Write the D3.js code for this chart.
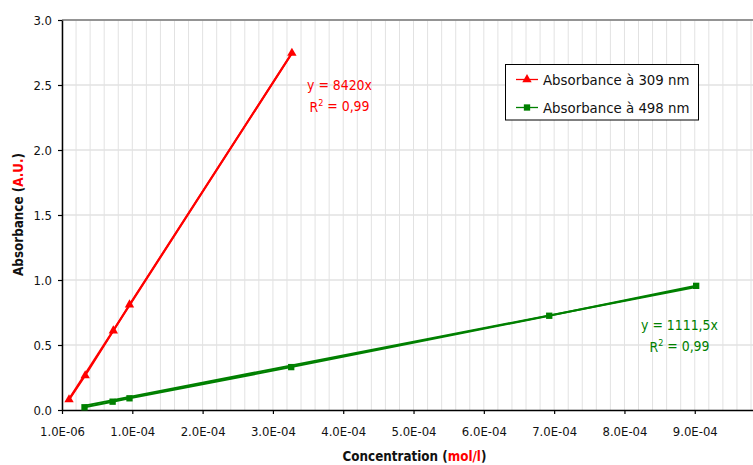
<!DOCTYPE html>
<html>
<head>
<meta charset="utf-8">
<script src="https://cdn.jsdelivr.net/npm/d3@7"></script>
<style>
  html, body { margin: 0; padding: 0; background: #fff; }
  svg { display: block; font-family: "DejaVu Sans Condensed", "DejaVu Sans", sans-serif; font-stretch: condensed; }
</style>
</head>
<body>
<svg id="chart" width="753" height="465"></svg>
<script>
// ---- data ----
const seriesNames = ["Absorbance à 309 nm", "Absorbance à 498 nm"];
const conc309 = [1.0e-5, 3.3e-5, 7.3e-5, 9.6e-5, 3.27e-4];
const abs309  = [0.08, 0.265, 0.61, 0.81, 2.745];
const conc498 = [3.2e-5, 7.2e-5, 9.6e-5, 3.26e-4, 6.93e-4, 9.02e-4];
const abs498  = [0.021, 0.064, 0.09, 0.33, 0.725, 0.955];
const xTickValues = [0, 1e-4, 2e-4, 3e-4, 4e-4, 5e-4, 6e-4, 7e-4, 8e-4, 9e-4];
const xTickLabels = ["1.0E-06", "1.0E-04", "2.0E-04", "3.0E-04", "4.0E-04", "5.0E-04", "6.0E-04", "7.0E-04", "8.0E-04", "9.0E-04"];
const yTickValues = [0, 0.5, 1.0, 1.5, 2.0, 2.5, 3.0];
const eq309 = ["y = 8420x", "0,99"];
const eq498 = ["y = 1111,5x", "0,99"];

// ---- layout ----
const svg = d3.select("#chart");
const pL = 62, pT = 20, pB = 410, pR = 751;
const xMax = 9.8e-4;
const x = d3.scaleLinear().domain([0, xMax]).range([pL, pR]);
const y = d3.scaleLinear().domain([0, 3]).range([pB, pT]);

const red = "#ff0000", green = "#008000";
const FONT = "DejaVu Sans Condensed, DejaVu Sans, sans-serif";

// fit a font size so the text node has a target width
function fitSize(node, target) {
  const fs = parseFloat(node.getAttribute("font-size") || 13);
  const w = node.getComputedTextLength();
  return w > 0 ? fs * target / w : fs;
}

// grid: minor vertical
const minor = d3.range(0, xMax + 1e-9, 2e-5);
svg.append("g").selectAll("line").data(minor).join("line")
  .attr("x1", d => x(d)).attr("x2", d => x(d))
  .attr("y1", pT).attr("y2", pB)
  .attr("stroke", "#e2e2e2").attr("stroke-width", 1);
// horizontal grid
svg.append("g").selectAll("line").data(yTickValues.slice(1)).join("line")
  .attr("x1", pL).attr("x2", 753)
  .attr("y1", d => y(d)).attr("y2", d => y(d))
  .attr("stroke", "#e2e2e2").attr("stroke-width", 1.3);

// top border
svg.append("line").attr("x1", pL).attr("x2", 753).attr("y1", pT).attr("y2", pT)
  .attr("stroke", "#777").attr("stroke-width", 1.5);

// axes
const xAxis = d3.axisBottom(x).tickValues(xTickValues)
  .tickFormat((d, i) => xTickLabels[i]).tickSize(4).tickPadding(13).tickSizeOuter(0);
const gx = svg.append("g").attr("transform", `translate(0,${pB})`).call(xAxis);
gx.select(".domain").attr("d", `M${pL},0.5H753`).attr("stroke", "#000").attr("stroke-width", 1.5);
gx.selectAll(".tick line").attr("stroke", "#000").attr("stroke-width", 1.2);
gx.selectAll(".tick text").attr("font-size", 13).attr("fill", "#111").attr("font-family", FONT);
const tickFs = fitSize(gx.selectAll(".tick text").nodes().slice(-1)[0], 45);
gx.selectAll(".tick text").attr("font-size", tickFs);

const yAxis = d3.axisLeft(y).tickValues(yTickValues)
  .tickFormat(d3.format(".1f")).tickSize(4).tickPadding(6).tickSizeOuter(0);
const gy = svg.append("g").attr("transform", `translate(${pL},0)`).call(yAxis);
gy.select(".domain").attr("stroke", "#000").attr("stroke-width", 1.5);
gy.selectAll(".tick line").attr("stroke", "#000").attr("stroke-width", 1.2);
gy.selectAll(".tick text").attr("font-size", tickFs).attr("fill", "#111").attr("font-family", FONT);

// trendlines (least squares through origin, drawn over data range)
function trend(xs, ys) {
  const sxy = d3.sum(xs, (v, i) => v * ys[i]);
  const sxx = d3.sum(xs, v => v * v);
  const k = sxy / sxx;
  const x0 = d3.min(xs), x1 = d3.max(xs);
  return [[x0, k * x0], [x1, k * x1]];
}
const line = d3.line().x(d => x(d[0])).y(d => y(d[1]));

const data309 = conc309.map((c, i) => [c, abs309[i]]);
const data498 = conc498.map((c, i) => [c, abs498[i]]);

svg.append("path").datum(trend(conc498, abs498)).attr("d", line)
  .attr("fill", "none").attr("stroke", green).attr("stroke-width", 2);
svg.append("path").datum(data498).attr("d", line)
  .attr("fill", "none").attr("stroke", green).attr("stroke-width", 2);
svg.append("path").datum(trend(conc309, abs309)).attr("d", line)
  .attr("fill", "none").attr("stroke", red).attr("stroke-width", 2);
svg.append("path").datum(data309).attr("d", line)
  .attr("fill", "none").attr("stroke", red).attr("stroke-width", 2);

const tri = d3.symbol().type(d3.symbolTriangle).size(38);
const sq = d3.symbol().type(d3.symbolSquare).size(40);
svg.append("g").selectAll("path").data(data309).join("path")
  .attr("d", tri).attr("transform", d => `translate(${x(d[0])},${y(d[1])})`).attr("fill", red);
svg.append("g").selectAll("path").data(data498).join("path")
  .attr("d", sq).attr("transform", d => `translate(${x(d[0])},${y(d[1])})`).attr("fill", green);

// equations
let eqFs = null;
function eq(cx, cy, lines, color) {
  const g = svg.append("g").attr("fill", color).attr("text-anchor", "middle");
  const t0 = g.append("text").attr("x", cx).attr("y", cy).attr("dy", "0.35em")
    .attr("font-size", 14).text(lines[0]);
  if (eqFs === null) eqFs = fitSize(t0.node(), 65);
  t0.attr("font-size", eqFs);
  const t = g.append("text").attr("x", cx).attr("y", cy + 22).attr("dy", "0.35em").attr("font-size", eqFs);
  t.append("tspan").text("R");
  t.append("tspan").attr("font-size", eqFs * 0.65).attr("dy", "-0.6em").text("2");
  t.append("tspan").attr("dy", "0.35em").text(" = " + lines[1]);
}
eq(339.5, 85, eq309, red);
eq(679.5, 325, eq498, green);

// legend
const lg = svg.append("g");
lg.append("rect").attr("x", 505.5).attr("y", 64.5).attr("width", 193).attr("height", 55.5)
  .attr("fill", "#fff").attr("stroke", "#000").attr("stroke-width", 1);
const items = [[seriesNames[0], red, tri], [seriesNames[1], green, sq]];
let lgFs = null;
items.forEach((it, i) => {
  const yy = 79.5 + i * 28;
  lg.append("line").attr("x1", 516).attr("x2", 538).attr("y1", yy).attr("y2", yy)
    .attr("stroke", it[1]).attr("stroke-width", 1.3);
  lg.append("path").attr("d", it[2]).attr("transform", `translate(527,${yy})`).attr("fill", it[1]);
  const t = lg.append("text").attr("x", 543).attr("y", yy).attr("dy", "0.35em")
    .attr("font-size", 14.7).attr("fill", "#111").text(it[0]);
  if (lgFs === null) lgFs = fitSize(t.node(), 146.5);
  t.attr("font-size", lgFs);
});

// axis titles
const xt = svg.append("text").attr("x", 414.5).attr("y", 456).attr("dy", "0.35em")
  .attr("text-anchor", "middle").attr("font-weight", "bold").attr("font-size", 13).attr("fill", "#111");
xt.append("tspan").text("Concentration (");
xt.append("tspan").attr("fill", red).text("mol/l");
xt.append("tspan").text(")");
const titleFs = fitSize(xt.node(), 144);
xt.attr("font-size", titleFs);

const yt = svg.append("text").attr("transform", "translate(18,214.5) rotate(-90)").attr("dy", "0.35em")
  .attr("text-anchor", "middle").attr("font-weight", "bold").attr("font-size", titleFs).attr("fill", "#111");
yt.append("tspan").text("Absorbance (");
yt.append("tspan").attr("fill", red).text("A.U.");
yt.append("tspan").text(")");
</script>
</body>
</html>
